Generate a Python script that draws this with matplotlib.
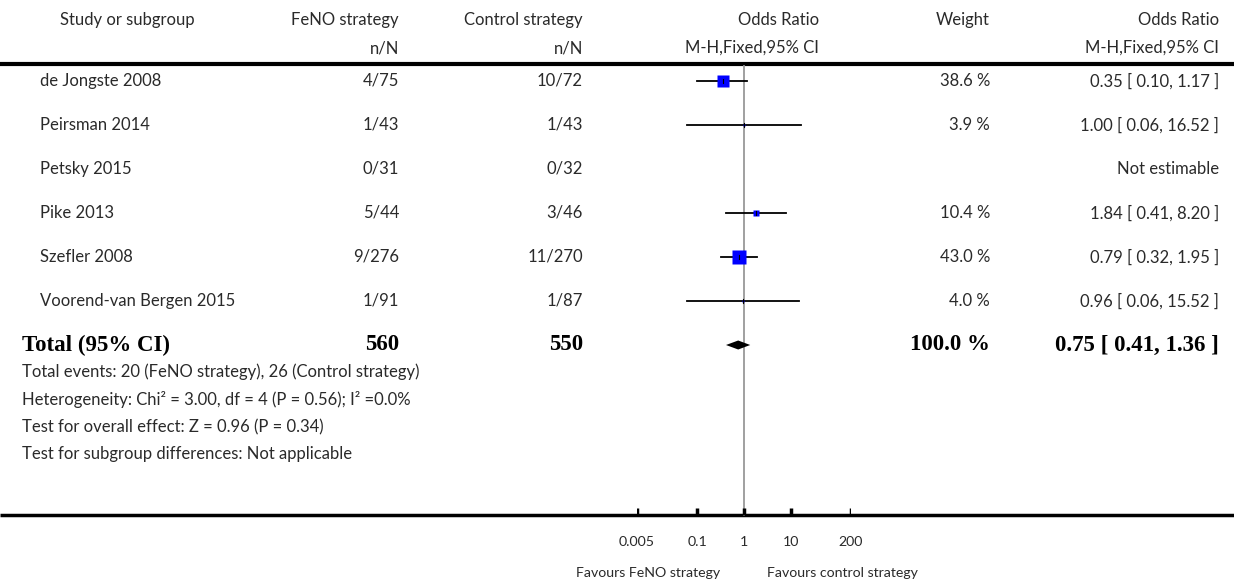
import numpy as np
import matplotlib
matplotlib.use("Agg")
import matplotlib.pyplot as plt

# Study data
studies = ["de Jongste 2008", "Peirsman 2014", "Petsky 2015", "Pike 2013",
           "Szefler 2008", "Voorend-van Bergen 2015"]
feno_events = [4, 1, 0, 5, 9, 1]
feno_total = [75, 43, 31, 44, 276, 91]
ctrl_events = [10, 1, 0, 3, 11, 1]
ctrl_total = [72, 43, 32, 46, 270, 87]
weights = [38.6, 3.9, np.nan, 10.4, 43.0, 4.0]
odds = [0.35, 1.00, np.nan, 1.84, 0.79, 0.96]
ci_low = [0.10, 0.06, np.nan, 0.41, 0.32, 0.06]
ci_high = [1.17, 16.52, np.nan, 8.20, 1.95, 15.52]

total_or = 0.75
total_ci = (0.41, 1.36)
total_weight = 100.0
footer = [
    "Total events: 20 (FeNO strategy), 26 (Control strategy)",
    "Heterogeneity: Chi\u00b2 = 3.00, df = 4 (P = 0.56); I\u00b2 =0.0%",
    "Test for overall effect: Z = 0.96 (P = 0.34)",
    "Test for subgroup differences: Not applicable",
]
tick_vals = [0.005, 0.1, 1, 10, 200]
tick_labels = ["0.005", "0.1", "1", "10", "200"]

W, H = 1234, 583
fig = plt.figure(figsize=(W / 100, H / 100), dpi=100)
ax = fig.add_axes([0, 0, 1, 1])
ax.set_xlim(0, W)
ax.set_ylim(H, 0)
ax.axis("off")

# forest panel, log scale, shares pixel y coords
x0, x1 = 637, 851
fx = fig.add_axes([x0 / W, 0, (x1 - x0) / W, 1])
fx.set_xscale("log")
fx.set_xlim(0.005, 200)
fx.set_ylim(H, 0)
fx.axis("off")

sans = dict(family="Lato", fontsize=12, color="#2a2a2a")
small = dict(sans, fontsize=10.2)
bold = dict(family="Liberation Serif", fontsize=16.5, fontweight="bold", color="black")

# column positions (pixels)
c_study, c_feno, c_ctrl, c_or, c_w, c_res = 127, 399, 583, 819, 990, 1219
y_h1, y_h2, y_line = 20, 48, 64

ax.text(c_study, y_h1, "Study or subgroup", ha="center", va="center", **sans)
ax.text(c_feno, y_h1, "FeNO strategy", ha="right", va="center", **sans)
ax.text(c_ctrl, y_h1, "Control strategy", ha="right", va="center", **sans)
ax.text(c_or, y_h1, "Odds Ratio", ha="right", va="center", **sans)
ax.text(c_w, y_h1, "Weight", ha="right", va="center", **sans)
ax.text(c_res, y_h1, "Odds Ratio", ha="right", va="center", **sans)
ax.text(c_feno, y_h2, "n/N", ha="right", va="center", **sans)
ax.text(c_ctrl, y_h2, "n/N", ha="right", va="center", **sans)
ax.text(c_or, y_h2, "M-H,Fixed,95% CI", ha="right", va="center", **sans)
ax.text(c_res, y_h2, "M-H,Fixed,95% CI", ha="right", va="center", **sans)
ax.plot([0, W], [y_line, y_line], color="black", lw=3, solid_capstyle="butt")

y_axis = 515
# line of no effect
fx.plot([1, 1], [y_line + 1.5, y_axis], color="#999999", lw=1.3, zorder=1)

for i, name in enumerate(studies):
    y = 81 + 44 * i
    ax.text(40, y, name, ha="left", va="center", **sans)
    ax.text(c_feno, y, f"{feno_events[i]}/{feno_total[i]}", ha="right", va="center", **sans)
    ax.text(c_ctrl, y, f"{ctrl_events[i]}/{ctrl_total[i]}", ha="right", va="center", **sans)
    if np.isnan(odds[i]):
        ax.text(c_res, y, "Not estimable", ha="right", va="center", **sans)
        continue
    ax.text(c_w, y, f"{weights[i]:.1f} %", ha="right", va="center", **sans)
    ax.text(c_res, y, f"{odds[i]:.2f} [ {ci_low[i]:.2f}, {ci_high[i]:.2f} ]",
            ha="right", va="center", **sans)
    fx.plot([ci_low[i], ci_high[i]], [y, y], color="black", lw=1.3, zorder=2)
    side = 2.05 * np.sqrt(weights[i]) if weights[i] > 5 else 2.0
    fx.plot(odds[i], y, marker="s", ms=side * 0.72, color="#0000ff", mec="none", zorder=3)
    fx.plot([odds[i], odds[i]], [y - 2, y + 2], color="black", lw=0.8, zorder=4)

# total row
y_t = 345
ax.text(22, y_t, "Total (95% CI)", ha="left", va="center", **bold)
ax.text(c_feno, y_t, str(sum(feno_total)), ha="right", va="center", **bold)
ax.text(c_ctrl, y_t, str(sum(ctrl_total)), ha="right", va="center", **bold)
ax.text(c_w, y_t, f"{total_weight:.1f} %", ha="right", va="center", **bold)
ax.text(c_res, y_t, f"{total_or:.2f} [ {total_ci[0]:.2f}, {total_ci[1]:.2f} ]",
        ha="right", va="center", **bold)
fx.fill([total_ci[0], total_or, total_ci[1], total_or],
        [y_t, y_t - 4.5, y_t, y_t + 4.5], color="black", lw=0, zorder=3)

for j, line in enumerate(footer):
    ax.text(22, 372 + 27.5 * j, line, ha="left", va="center", **sans)

# bottom axis
ax.plot([0, W], [y_axis, y_axis], color="black", lw=2.5, solid_capstyle="butt")
for v, lab in zip(tick_vals, tick_labels):
    fx.plot([v, v], [y_axis - 7, y_axis], color="black", lw=2.5, solid_capstyle="butt")
    fx.text(v, 542, lab, ha="center", va="center", **small)
fx.text(0.305, 573, "Favours FeNO strategy", ha="right", va="center", **small)
fx.text(3.13, 573, "Favours control strategy", ha="left", va="center", **small)

fig.savefig("out.png", dpi=100)
